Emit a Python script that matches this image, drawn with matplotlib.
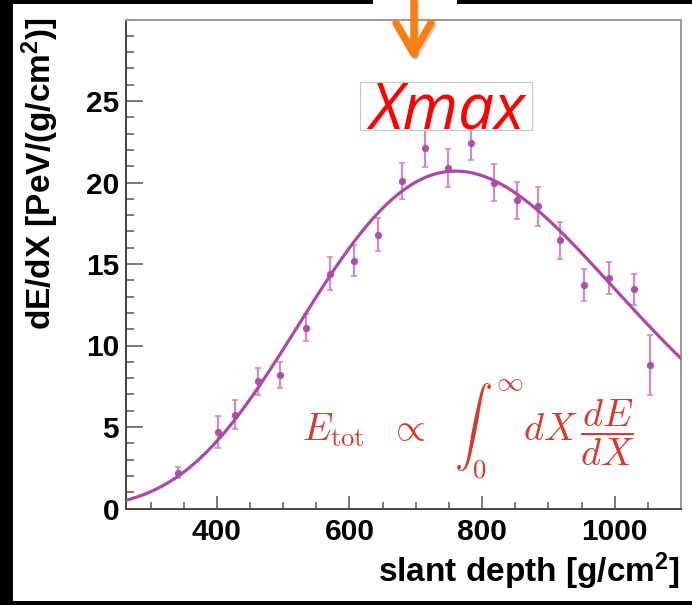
import numpy as np
import matplotlib
matplotlib.use("Agg")
import matplotlib.pyplot as plt
from matplotlib.patches import Rectangle
from matplotlib.lines import Line2D
from matplotlib.ticker import MultipleLocator

# measured points (slant depth, dE/dX, error)
depth = [341, 402, 428, 462, 496, 534, 570, 607, 643, 679, 714,
         749, 783, 818, 852, 884, 917, 953, 991, 1029, 1053]
dedx = [2.2, 4.7, 5.75, 7.8, 8.2, 11.1, 14.4, 15.2, 16.8, 20.1, 22.1,
        20.9, 22.4, 20.0, 18.9, 18.55, 16.45, 13.7, 14.15, 13.45, 8.8]
err = [0.35, 1.0, 0.9, 0.85, 0.8, 0.85, 1.0, 0.95, 1.0, 1.1, 1.15,
       1.15, 1.0, 1.15, 1.15, 1.2, 1.15, 1.0, 1.0, 0.95, 1.85]

# Gaisser-Hillas fit parameters
gh_nmax = 20.7
gh_xmax = 760.0
gh_x0 = -100.0
gh_lambda = 66.0

x_ticks = [400, 600, 800, 1000]
y_ticks = [0, 5, 10, 15, 20, 25]

W, H = 692, 605
def fx(px):
    return px / W
def fy(py):
    return 1 - py / H

plt.rcParams['font.family'] = ['Liberation Sans', 'DejaVu Sans']

fig = plt.figure(figsize=(W / 100, H / 100), dpi=100, facecolor='black')
# white slide area inside the black frame
fig.patches.append(Rectangle((fx(13), fy(601)), (W - 13) / W, (601 - 4) / H,
                             transform=fig.transFigure, facecolor='white',
                             edgecolor='none', zorder=-10))
fig.patches.append(Rectangle((fx(373), fy(5)), 84 / W, 5 / H,
                             transform=fig.transFigure, facecolor='white',
                             edgecolor='none', zorder=-9))

ax = fig.add_axes([fx(126), fy(508.5), (681 - 126) / W, (508.5 - 19.5) / H])
ax.set_xlim(263, 1100)
ax.set_ylim(0, 30)

curve_c = '#a94aa3'
ax.errorbar(depth, dedx, yerr=err, fmt='o', ms=4.2, color='#b04fa8',
            ecolor='#cf8ac9', elinewidth=1.6, capsize=2.5, capthick=1.2, zorder=3)

xs = np.linspace(263, 1100, 500)
w = gh_xmax - gh_x0
ys = gh_nmax * ((xs - gh_x0) / w) ** (w / gh_lambda) * np.exp((gh_xmax - xs) / gh_lambda)
ax.plot(xs, ys, color=curve_c, lw=2.3, zorder=4)

ax.set_xticks(x_ticks)
ax.set_yticks(y_ticks)
ax.xaxis.set_minor_locator(MultipleLocator(50))
ax.yaxis.set_minor_locator(MultipleLocator(1))
ax.tick_params(which='both', direction='in', top=False, right=False, color='#555555', width=1.1)
ax.tick_params(axis='x', which='major', length=9.5, pad=7)
ax.tick_params(axis='x', which='minor', length=5)
ax.tick_params(axis='y', which='major', length=12, pad=5)
ax.tick_params(axis='y', which='minor', length=6)
for lab in ax.get_xticklabels() + ax.get_yticklabels():
    lab.set_fontsize(21.5)
    lab.set_fontweight('bold')
for s in ['left', 'bottom']:
    ax.spines[s].set_color('#444444')
    ax.spines[s].set_linewidth(1.4)
for s in ['top', 'right']:
    ax.spines[s].set_color('#999999')
    ax.spines[s].set_linewidth(1.4)

fig.text(fx(40), fy(17), r'dE/dX [PeV/(g/cm$\mathregular{^2}$)]', rotation=90,
         ha='center', va='top', fontsize=24, fontweight='bold', color='black')
fig.text(fx(680), fy(581.7), r'slant depth [g/cm$\mathregular{^2}$]',
         ha='right', va='baseline', fontsize=24, fontweight='bold', color='black')

# energy integral
fig.text(fx(302), fy(442), r'$E_{\rm tot}\ \ \propto\ \ \int_0^\infty dX\,\dfrac{dE}{dX}$',
         math_fontfamily='cm', fontsize=27.5, color='#d63a2e', ha='left', va='baseline', zorder=5)

# Xmax label box and arrow
fig.patches.append(Rectangle((fx(360), fy(130)), 172 / W, 48 / H, transform=fig.transFigure,
                             facecolor='white', edgecolor='#c8c8c8', lw=0.8, zorder=6))
fig.text(fx(447), fy(128), 'Xmax', family=['Open Sans', 'Noto Sans', 'DejaVu Sans'],
         style='italic', fontsize=46, color='#ff0000', ha='center', va='baseline', zorder=7)

arrow_c = '#f97f10'
for dx, dy, c, a in [(1.5, 2.5, '#777777', 0.35), (0, 0, arrow_c, 1.0)]:
    lines = [([413.5, 413.5], [0, 50]),
             ([396, 413.5], [23, 53]),
             ([431, 413.5], [23, 53])]
    for lx, ly in lines:
        fig.lines.append(Line2D([fx(v + dx) for v in lx], [fy(v + dy) for v in ly],
                                transform=fig.transFigure, color=c, alpha=a, lw=5.4,
                                solid_capstyle='round', zorder=8))

fig.savefig('out.png', dpi=100, facecolor=fig.get_facecolor())
